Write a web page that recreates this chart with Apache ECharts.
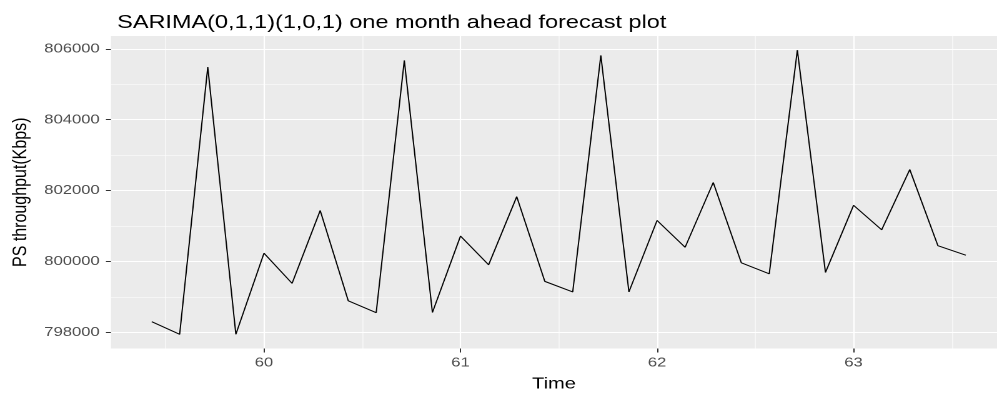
<!DOCTYPE html>
<html>
<head>
<meta charset="utf-8">
<script src="https://cdn.jsdelivr.net/npm/echarts@6/dist/echarts.min.js"></script>
<style>
  html, body { margin: 0; padding: 0; background: #fff; overflow: hidden; }
  #wrap { width: 997px; height: 397px; overflow: hidden; }
  #c { width: 798px; height: 397px; transform: scaleX(1.2494); transform-origin: 0 0; }
</style>
</head>
<body>
<div id="wrap"><div id="c"></div></div>
<script>
// Time index (years, weekly steps) and one-month-ahead forecast values
const times = [59.429, 59.571, 59.714, 59.857, 60.000, 60.143, 60.286, 60.429, 60.571, 60.714,
               60.857, 61.000, 61.143, 61.286, 61.429, 61.571, 61.714, 61.857, 62.000, 62.143,
               62.286, 62.429, 62.571, 62.714, 62.857, 63.000, 63.143, 63.286, 63.429, 63.571];
const throughput = [798300, 797944, 805485, 797944, 800232, 799381, 801436, 798888, 798552, 805673,
                    798560, 800716, 799904, 801828, 799437, 799140, 805813, 799140, 801156, 800400,
                    802228, 799960, 799652, 805961, 799689, 801584, 800893, 802593, 800445, 800176];
const xTickLabels = ['60', '61', '62', '63'];
const yTickLabels = ['798000', '800000', '802000', '804000', '806000'];

const seriesData = times.map((t, i) => [t, throughput[i]]);
const FONT = 'Liberation Sans, Arial, sans-serif';

const chart = echarts.init(document.getElementById('c'), null, { renderer: 'canvas', devicePixelRatio: 2 });
chart.setOption({
  backgroundColor: '#ffffff',
  animation: false,
  title: {
    text: 'SARIMA(0,1,1)(1,0,1) one month ahead forecast plot',
    left: 88.8, top: 8.5,
    textStyle: { fontFamily: FONT, fontSize: 18.8, fontWeight: 'normal', color: '#000000' }
  },
  grid: {
    left: 88.8, right: 0, top: 36, bottom: 45.3,
    show: true, backgroundColor: '#EBEBEB', borderWidth: 0
  },
  xAxis: {
    type: 'value',
    min: 59.2214, max: 63.73,
    splitNumber: 5,
    name: 'Time', nameLocation: 'middle', nameGap: 27.5,
    nameTextStyle: { fontFamily: FONT, fontSize: 16, color: '#000000' },
    axisLine: { show: false },
    axisTick: { show: true, length: 4, lineStyle: { color: '#333333', width: 1 } },
    axisLabel: {
      show: true, margin: 8, showMinLabel: false, showMaxLabel: false,
      fontFamily: FONT, fontSize: 13.3, color: '#4D4D4D',
      formatter: v => { const s = String(Math.round(v)); return (Math.abs(v - Math.round(v)) < 1e-6 && xTickLabels.includes(s)) ? s : ''; }
    },
    splitLine: { show: true, showMinLine: false, showMaxLine: false, lineStyle: { color: '#ffffff', width: 1.1 } },
    minorTick: { show: false, splitNumber: 2 },
    minorSplitLine: { show: true, lineStyle: { color: '#ffffff', width: 0.55 } }
  },
  yAxis: {
    type: 'value',
    min: 797543, max: 806362,
    splitNumber: 5,
    name: 'PS throughput(Kbps)', nameLocation: 'middle', nameGap: 62, nameRotate: 90,
    nameTextStyle: { fontFamily: FONT, fontSize: 16, color: '#000000' },
    axisLine: { show: false },
    axisTick: { show: true, length: 4, lineStyle: { color: '#333333', width: 1 } },
    axisLabel: {
      show: true, margin: 9, showMinLabel: false, showMaxLabel: false,
      fontFamily: FONT, fontSize: 13.3, color: '#4D4D4D',
      formatter: v => { const s = String(Math.round(v)); return yTickLabels.includes(s) ? s : ''; }
    },
    splitLine: { show: true, showMinLine: false, showMaxLine: false, lineStyle: { color: '#ffffff', width: 1.1 } },
    minorTick: { show: false, splitNumber: 2 },
    minorSplitLine: { show: true, lineStyle: { color: '#ffffff', width: 0.55 } }
  },
  series: [{
    type: 'line',
    data: seriesData,
    showSymbol: false,
    symbol: 'none',
    lineStyle: { color: '#000000', width: 1 },
    clip: true
  }]
});
</script>
</body>
</html>
